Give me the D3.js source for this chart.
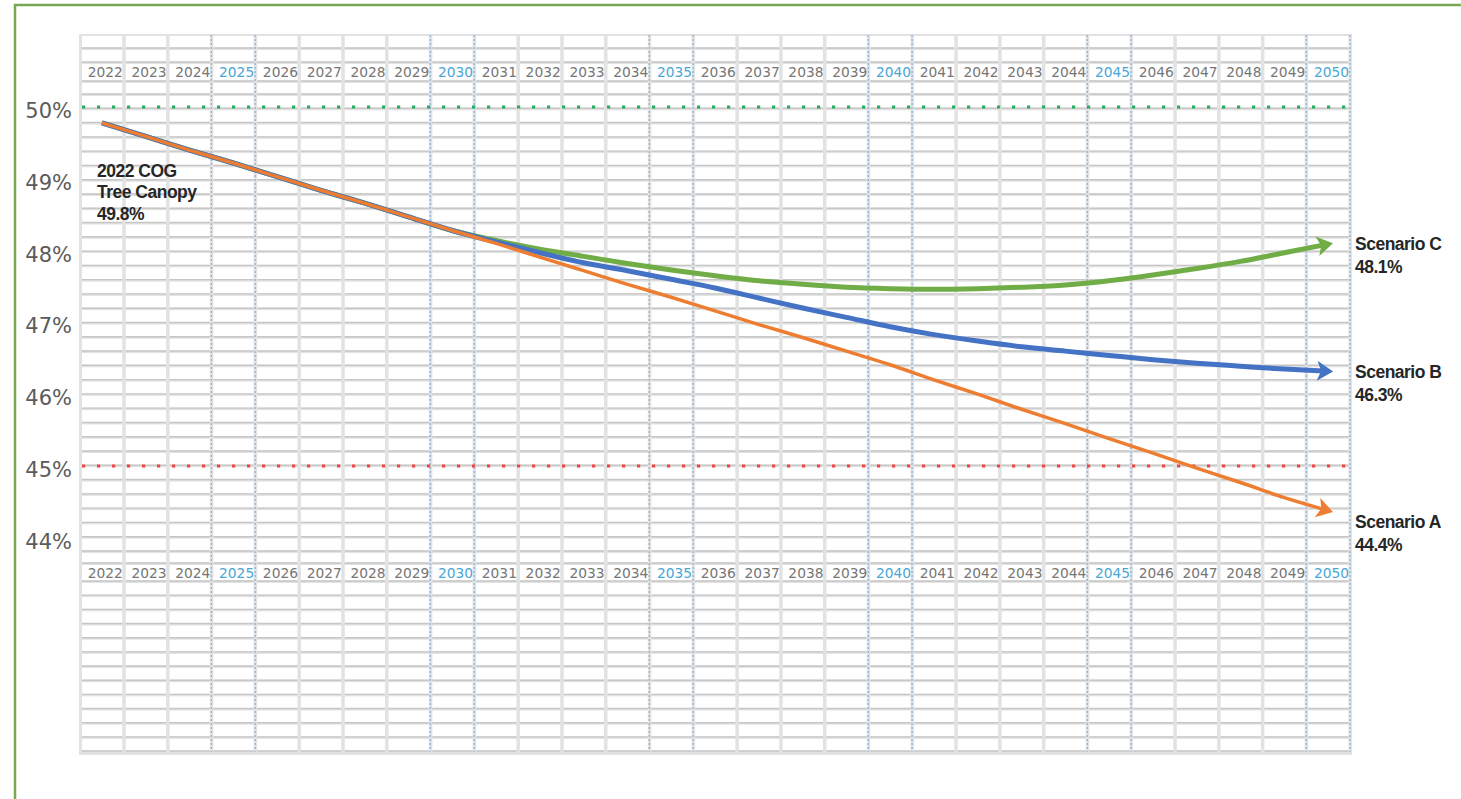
<!DOCTYPE html>
<html>
<head>
<meta charset="utf-8">
<script src="https://cdn.jsdelivr.net/npm/d3@7"></script>
<style>
  body { margin: 0; background: #fff; }
  svg { display: block; }
</style>
</head>
<body>
<svg id="chart"></svg>
<script>
const years = [2022, 2023, 2024, 2025, 2026, 2027, 2028, 2029, 2030, 2031, 2032, 2033, 2034, 2035, 2036,
               2037, 2038, 2039, 2040, 2041, 2042, 2043, 2044, 2045, 2046, 2047, 2048, 2049, 2050];

// tree canopy share (%)
const scenarioA = [49.78, 49.59, 49.40, 49.22, 49.03, 48.84, 48.66, 48.47, 48.28, 48.10, 47.91, 47.72, 47.53, 47.35, 47.16,
                   46.97, 46.79, 46.60, 46.41, 46.20, 46.00, 45.79, 45.59, 45.38, 45.18, 44.97, 44.77, 44.56, 44.38];
const scenarioB = [49.78, 49.59, 49.40, 49.22, 49.03, 48.84, 48.66, 48.47, 48.28, 48.12, 47.97, 47.83, 47.72, 47.60, 47.48,
                   47.34, 47.20, 47.07, 46.94, 46.83, 46.74, 46.66, 46.60, 46.54, 46.48, 46.43, 46.39, 46.35, 46.32];
const scenarioC = [49.78, 49.59, 49.40, 49.22, 49.03, 48.84, 48.66, 48.47, 48.28, 48.14, 48.02, 47.92, 47.82, 47.73, 47.65,
                   47.58, 47.53, 47.49, 47.47, 47.46, 47.47, 47.49, 47.52, 47.58, 47.66, 47.75, 47.85, 47.97, 48.09];

const yTicks = [44, 45, 46, 47, 48, 49, 50];
const goalLine = 50;
const floorLine = 45;

const scenarios = [
    { name: "Scenario C", label: "48.1%", values: scenarioC, color: "#70ad47", width: 5, dy: 6 },
    { name: "Scenario B", label: "46.3%", values: scenarioB, color: "#4472c4", width: 5, dy: 7 },
    { name: "Scenario A", label: "44.4%", values: scenarioA, color: "#ed7d31", width: 3.5, dy: 17 }
];
const startNote = ["2022 COG", "Tree Canopy", "49.8%"];

const width = 1461, height = 799;
const gridLeft = 80, gridRight = 1350, gridTop = 35, gridBottom = 752;

const svg = d3.select("#chart").attr("width", width).attr("height", height);

const x = d3.scaleBand().domain(years).range([gridLeft, gridRight]).padding(0);
const y = d3.scaleLinear().domain([44, 50]).range([537.8, 107]);

// frame
svg.append("line").attr("x1", 14).attr("x2", width).attr("y1", 5).attr("y2", 5)
    .attr("stroke", "#78a852").attr("stroke-width", 2.5);
svg.append("line").attr("x1", 15).attr("x2", 15).attr("y1", 4).attr("y2", height)
    .attr("stroke", "#78a852").attr("stroke-width", 2.5);

// spreadsheet-like backdrop
const rowEdges = [35, 49, 63, 82, 95];
for (let i = 1; i <= 32; i++) rowEdges.push(95 + i * 14.28);
rowEdges.push(564, 582);
for (let i = 1; i <= 12; i++) rowEdges.push(582 + i * 14.17);

const grid = svg.append("g");
grid.append("rect")
    .attr("x", gridLeft - 1).attr("y", gridTop - 1)
    .attr("width", gridRight - gridLeft + 3).attr("height", gridBottom - gridTop + 4)
    .attr("fill", "#e2e2e2");

const rows = d3.pairs(rowEdges);
const bw = x.bandwidth();
years.forEach(yr => {
    const x0 = x(yr);
    grid.selectAll(null).data(rows).enter().append("rect")
        .attr("x", x0 + 2).attr("y", d => d[0] + 1)
        .attr("width", bw - 3.5).attr("height", d => d[1] - d[0] - 2.5)
        .attr("fill", "#fff");
    grid.selectAll(null).data(rows).enter().append("line")
        .attr("x1", x0 + 2).attr("x2", x0 + bw - 1.5)
        .attr("y1", d => d[1] - 1).attr("y2", d => d[1] - 1)
        .attr("stroke", "#c6c6c6").attr("stroke-width", 1.4);
});

// blue dotted borders around every fifth year
const fiveYears = years.filter(d => d % 5 === 0);
fiveYears.forEach(yr => {
    [x(yr), x(yr) + bw].forEach(xx => {
        grid.append("line")
            .attr("x1", xx).attr("x2", xx).attr("y1", gridTop).attr("y2", gridBottom)
            .attr("stroke", "#8fb3da").attr("stroke-width", 1.3)
            .attr("stroke-dasharray", "2,2");
    });
});

// year rows (top and bottom)
[72.5, 573.5].forEach(rowY => {
    const g = svg.append("g").attr("transform", `translate(0, ${rowY})`)
        .call(d3.axisTop(x).tickSize(0));
    g.select(".domain").remove();
    g.selectAll("text")
        .attr("x", bw / 2 - 1).attr("y", 0).attr("dy", "0.36em")
        .attr("text-anchor", "end")
        .attr("font-family", "DejaVu Sans, sans-serif")
        .attr("font-size", 13.8)
        .attr("fill", d => d % 5 === 0 ? "#4aa6d6" : "#767676");
});

// y axis labels
const yAxis = svg.append("g").attr("transform", `translate(72, 0)`)
    .call(d3.axisLeft(y).tickValues(yTicks).tickSize(0).tickFormat(d => d + "%"));
yAxis.select(".domain").remove();
yAxis.selectAll("text")
    .attr("x", 0).attr("dy", "0.5em")
    .attr("font-family", "DejaVu Sans, sans-serif")
    .attr("font-size", 21)
    .attr("fill", "#5b5b5b");

// reference lines
svg.append("line")
    .attr("x1", gridLeft + 2).attr("x2", gridRight).attr("y1", y(goalLine)).attr("y2", y(goalLine))
    .attr("stroke", "#1faf5e").attr("stroke-width", 3.2).attr("stroke-dasharray", "3.2,11.8");
svg.append("line")
    .attr("x1", gridLeft + 2).attr("x2", gridRight).attr("y1", y(floorLine)).attr("y2", y(floorLine))
    .attr("stroke", "#f04545").attr("stroke-width", 3.2).attr("stroke-dasharray", "3.2,11.8");

// arrow markers
const defs = svg.append("defs");
scenarios.forEach((s, i) => {
    defs.append("marker")
        .attr("id", "arrow" + i)
        .attr("viewBox", "-17 -11 18 22")
        .attr("refX", -5).attr("refY", 0)
        .attr("markerWidth", 18).attr("markerHeight", 22)
        .attr("markerUnits", "userSpaceOnUse")
        .attr("orient", "auto")
        .append("path")
        .attr("d", "M-16,-10 L0,0 L-16,10 L-12,0 Z")
        .attr("fill", s.color);
});

const line = d3.line()
    .x((d, i) => x(years[i]) + bw / 2)
    .y(d => y(d))
    .curve(d3.curveMonotoneX);

svg.append("g").selectAll("path")
    .data(scenarios)
    .enter().append("path")
    .attr("d", d => line(d.values))
    .attr("fill", "none")
    .attr("stroke", d => d.color)
    .attr("stroke-width", d => d.width)
    .attr("stroke-linecap", "butt")
    .attr("marker-end", (d, i) => `url(#arrow${i})`);

// labels
const labelFont = "Liberation Sans, Arial, sans-serif";
scenarios.forEach(s => {
    const last = s.values[s.values.length - 1];
    const t = svg.append("text")
        .attr("x", 1355).attr("y", y(last) + s.dy)
        .attr("font-family", labelFont).attr("font-weight", "bold")
        .attr("font-size", 17.5).attr("letter-spacing", -0.5)
        .attr("fill", "#262626");
    t.append("tspan").attr("x", 1355).text(s.name);
    t.append("tspan").attr("x", 1355).attr("dy", 23).text(s.label);
});

const note = svg.append("text")
    .attr("x", 97).attr("y", y(scenarioA[0]) + 54)
    .attr("font-family", labelFont).attr("font-weight", "bold")
    .attr("font-size", 17.5).attr("letter-spacing", -0.5)
    .attr("fill", "#262626");
startNote.forEach((t, i) => {
    note.append("tspan").attr("x", 97).attr("dy", i === 0 ? 0 : 21.5).text(t);
});
</script>
</body>
</html>
